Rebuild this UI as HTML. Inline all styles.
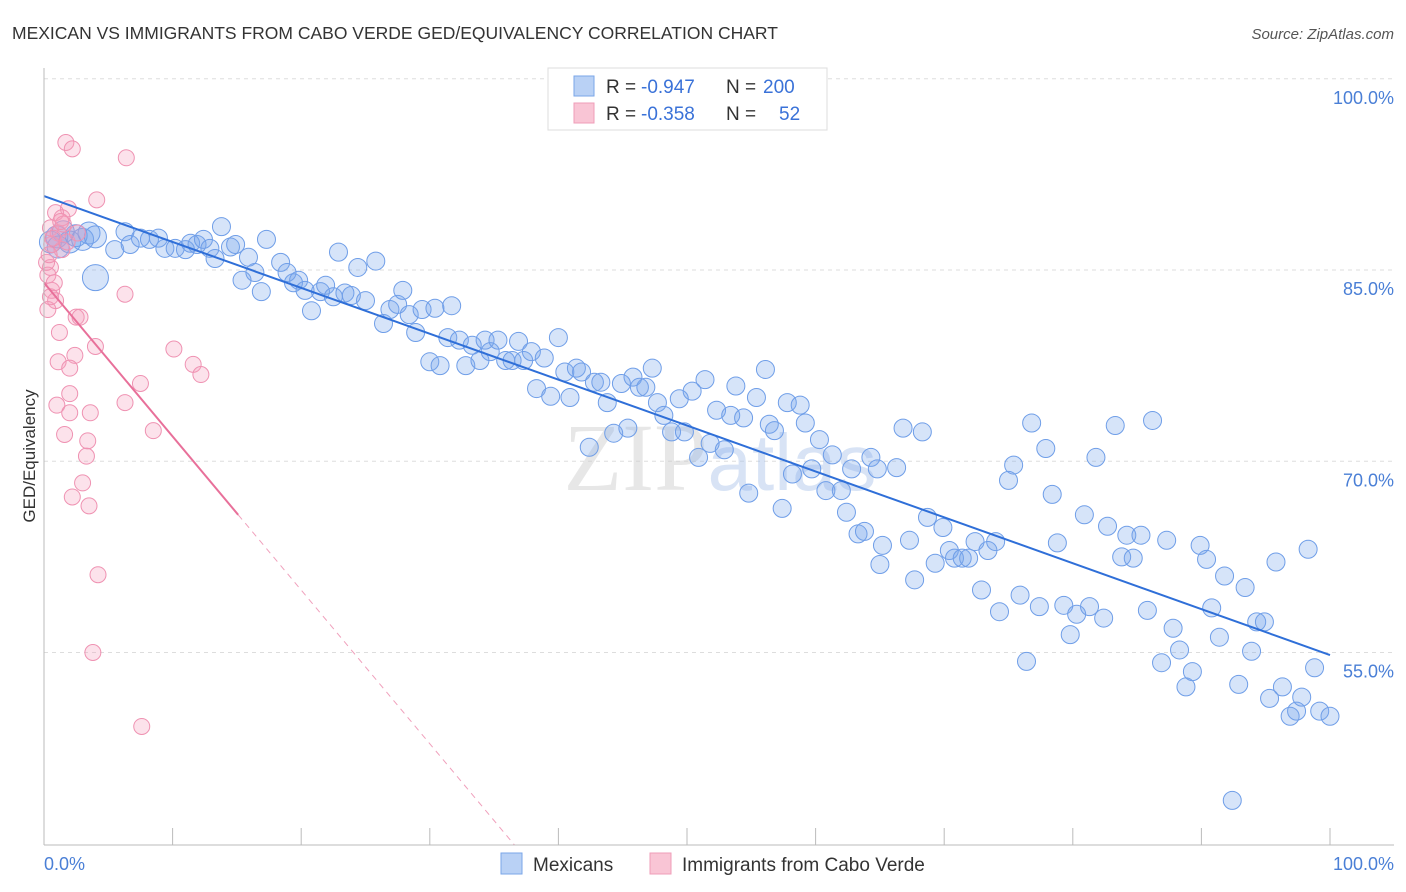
<!DOCTYPE html>
<html><head><meta charset="utf-8"><style>
body{margin:0;background:#fff;font-family:"Liberation Sans",sans-serif}
svg{display:block}
</style></head><body>
<svg width="1406" height="892" xmlns="http://www.w3.org/2000/svg">
<text x="12" y="39" font-size="17.5" fill="#333">MEXICAN VS IMMIGRANTS FROM CABO VERDE GED/EQUIVALENCY CORRELATION CHART</text>
<text x="1394" y="39" font-size="15" fill="#555" font-style="italic" text-anchor="end">Source: ZipAtlas.com</text>
<g id="grid"></g>
<text x="720" y="490" font-size="96" fill="#ccc" opacity="0.45" text-anchor="middle" font-family="Liberation Serif,serif">ZIP<tspan fill="#a9c3ea" font-family="Liberation Sans,sans-serif" font-size="80">atlas</tspan></text>
<g id="points"></g>
<g id="lines"></g>
<g id="axes"></g>
<text x="35" y="456" font-size="17" fill="#333" text-anchor="middle" transform="rotate(-90 35 456)">GED/Equivalency</text>
<g>
<rect x="548" y="68" width="279" height="62" fill="#fff" stroke="#ddd"/>
<rect x="574" y="76" width="20" height="20" fill="#b9d1f5" stroke="#7aa6e8"/>
<rect x="574" y="103" width="20" height="20" fill="#f9c5d5" stroke="#ef9db8"/>
<g font-size="19" fill="#333">
<text x="606" y="93">R =</text>
<text x="641" y="93" fill="#3a72d8">-0.947</text>
<text x="726" y="93">N =</text>
<text x="763" y="93" fill="#3a72d8">200</text>
<text x="606" y="120">R =</text>
<text x="641" y="120" fill="#3a72d8">-0.358</text>
<text x="726" y="120">N =</text>
<text x="779" y="120" fill="#3a72d8">52</text>
</g>
</g>
<g>
<rect x="501" y="853" width="21" height="21" fill="#b9d1f5" stroke="#7aa6e8"/>
<text x="533" y="871" font-size="19" fill="#333">Mexicans</text>
<rect x="650" y="853" width="21" height="21" fill="#f9c5d5" stroke="#ef9db8"/>
<text x="682" y="871" font-size="19" fill="#333">Immigrants from Cabo Verde</text>
</g>
<text x="44" y="870" font-size="18" fill="#4a7fd6">0.0%</text>
<text x="1394" y="870" font-size="18" fill="#4a7fd6" text-anchor="end">100.0%</text>
</svg>
<script>
const yTicks=[100,85,70,55];
const yTickLabels=["100.0%","85.0%","70.0%","55.0%"];
const xTicks=[0,10,20,30,40,50,60,70,80,90,100];
const blueX=[1,1.5,2,2.5,3,3.5,4,0.5,1.1,4.0,5.5,6.3,6.7,7.5,8.2,8.9,9.4,10.2,11.0,11.4,11.9,12.4,12.9,13.3,13.8,14.5,14.9,15.4,15.9,16.4,16.9,17.3,18.4,18.9,19.4,19.8,20.3,20.8,21.5,21.9,22.5,22.9,23.4,23.9,24.4,25.0,25.8,26.4,26.9,27.5,27.9,28.4,28.9,29.4,30.0,30.4,30.8,31.7,31.4,32.3,32.8,33.3,33.9,34.3,34.7,35.3,35.9,36.4,36.9,37.3,37.9,38.3,38.9,39.4,40.0,40.5,40.9,41.4,41.8,42.4,42.8,43.3,43.8,44.3,44.9,45.4,45.8,46.3,46.8,47.3,47.7,48.2,48.8,49.4,49.8,50.4,50.9,51.4,51.8,52.3,52.9,53.4,53.8,54.4,54.8,55.4,56.1,56.4,56.8,57.4,57.8,58.2,58.8,59.2,59.7,60.3,60.8,61.3,62.0,62.4,62.8,63.3,63.8,64.3,64.8,65.2,65.0,66.3,66.8,67.3,67.7,68.3,68.7,69.3,69.9,70.4,70.8,71.4,71.9,72.4,72.9,73.4,74.0,74.3,75.0,75.4,75.9,76.4,76.8,77.4,77.9,78.4,78.8,79.3,79.8,80.3,80.9,81.3,81.8,82.4,82.7,83.3,83.8,84.2,84.7,85.3,85.8,86.2,86.9,87.3,87.8,88.3,88.8,89.3,89.9,90.4,90.8,91.4,91.8,92.4,92.9,93.4,93.9,94.3,94.9,95.3,95.8,96.3,96.9,97.4,97.8,98.3,98.8,99.2,100];
const blueY=[87.6,88.0,87.2,87.7,87.4,87.9,87.6,87.2,86.8,84.4,86.6,88.0,87.0,87.5,87.4,87.5,86.7,86.7,86.6,87.1,87.0,87.4,86.7,85.9,88.4,86.8,87.0,84.2,86.0,84.8,83.3,87.4,85.6,84.8,84.0,84.2,83.4,81.8,83.3,83.8,82.9,86.4,83.2,83.0,85.2,82.6,85.7,80.8,81.9,82.3,83.4,81.5,80.1,81.9,77.8,82.0,77.5,82.2,79.7,79.5,77.5,79.1,77.9,79.5,78.6,79.5,77.9,77.9,79.4,77.9,78.6,75.7,78.1,75.1,79.7,77.0,75.0,77.3,77.0,71.1,76.2,76.2,74.6,72.2,76.1,72.6,76.6,75.8,75.8,77.3,74.6,73.6,72.3,74.9,72.3,75.5,70.3,76.4,71.4,74.0,70.9,73.6,75.9,73.4,67.5,75.0,77.2,72.9,72.4,66.3,74.6,69.0,74.4,73.0,69.4,71.7,67.7,70.5,67.7,66.0,69.4,64.3,64.5,70.3,69.4,63.4,61.9,69.5,72.6,63.8,60.7,72.3,65.6,62.0,64.8,63.0,62.4,62.4,62.4,63.7,59.9,63.0,63.7,58.2,68.5,69.7,59.5,54.3,73.0,58.6,71.0,67.4,63.6,58.7,56.4,58.0,65.8,58.6,70.3,57.7,64.9,72.8,62.5,64.2,62.4,64.2,58.3,73.2,54.2,63.8,56.9,55.2,52.3,53.5,63.4,62.3,58.5,56.2,61.0,43.4,52.5,60.1,55.1,57.4,57.4,51.4,62.1,52.3,50.0,50.4,51.5,63.1,53.8,50.4,50.0];
const pinkX=[1.7,2.2,6.4,4.1,1.9,0.9,1.4,0.5,1.1,0.6,1.4,0.5,0.3,0.6,0.9,0.3,2.5,6.3,1.2,4.0,2.4,1.1,2.0,10.1,11.6,12.2,7.5,2.0,6.3,1.0,3.6,2.0,1.6,8.5,3.4,3.3,3.0,2.2,3.5,4.2,3.8,7.6,0.7,0.2,0.5,2.8,1.5,0.8,1.8,0.4,1.3,2.6];
const pinkY=[95.0,94.5,93.8,90.5,89.8,89.5,89.1,88.3,87.9,87.0,86.6,85.2,84.6,83.4,82.6,81.9,81.3,83.1,80.1,79.0,78.3,77.8,77.3,78.8,77.6,76.8,76.1,75.3,74.6,74.4,73.8,73.8,72.1,72.4,71.6,70.4,68.3,67.2,66.5,61.1,55.0,49.2,87.5,85.6,82.9,81.3,88.6,84.0,87.2,86.2,88.8,87.9];
const blueTrend=[90.8,54.8];
const pinkTrend=[84.0,65.8];
const pinkSolidEnd=15.1;

const L=44,R=1330,B=845,T=68;
const xs=v=>L+(v/100)*(R-L);
const ys=v=>270+(85-v)*12.75;
const yMin=85-(B-270)/12.75;
const NS="http://www.w3.org/2000/svg";
function mk(tag,attrs,parent){const e=document.createElementNS(NS,tag);for(const k in attrs)e.setAttribute(k,attrs[k]);parent.appendChild(e);return e;}
const grid=document.getElementById('grid'),axes=document.getElementById('axes'),pts=document.getElementById('points'),lines=document.getElementById('lines');
yTicks.forEach((t,i)=>{
 const g=mk('line',{x1:L,x2:1394,y1:ys(t),y2:ys(t),stroke:'#ddd','stroke-dasharray':'4,4'},grid);
 
 
 const tx=mk('text',{x:1394,y:ys(t)+25,'font-size':18,fill:'#4a7fd6','text-anchor':'end'},axes);
 tx.textContent=yTickLabels[i];
 
 
});
const la=mk('line',{x1:L,x2:L,y1:T,y2:B,stroke:'#bbb'},axes);


const ba=mk('line',{x1:L,x2:1394,y1:B,y2:B,stroke:'#bbb'},axes);


xTicks.forEach(t=>{
 const tk=mk('line',{x1:xs(t),x2:xs(t),y1:B-17,y2:B,stroke:'#bbb'},axes);
 
 
});
blueX.forEach((x,i)=>{
 const big=i<9?11:(i===9?13:9);
 const c=mk('circle',{cx:xs(x),cy:ys(blueY[i]),r:big,fill:'rgba(120,165,235,0.3)',stroke:'#6f9ee8','stroke-width':1},pts);
 
 
});
pinkX.forEach((x,i)=>{
 const c=mk('circle',{cx:xs(x),cy:ys(pinkY[i]),r:8,fill:'rgba(245,160,190,0.3)',stroke:'#ef92b2','stroke-width':1},pts);
 
 
});
const bl=mk('line',{x1:xs(0),y1:ys(blueTrend[0]),x2:xs(100),y2:ys(blueTrend[1]),stroke:'#2f6fd8','stroke-width':2},lines);


const slope=(pinkTrend[1]-pinkTrend[0])/pinkSolidEnd;
const pl=mk('line',{x1:xs(0),y1:ys(pinkTrend[0]),x2:xs(pinkSolidEnd),y2:ys(pinkTrend[1]),stroke:'#e8709a','stroke-width':2},lines);


const xEnd=(yMin-pinkTrend[0])/slope;
const pd=mk('line',{x1:xs(pinkSolidEnd),y1:ys(pinkTrend[1]),x2:xs(xEnd),y2:ys(yMin),stroke:'#f0a0bc','stroke-width':1,'stroke-dasharray':'6,5'},lines);


</script>
</body></html>
